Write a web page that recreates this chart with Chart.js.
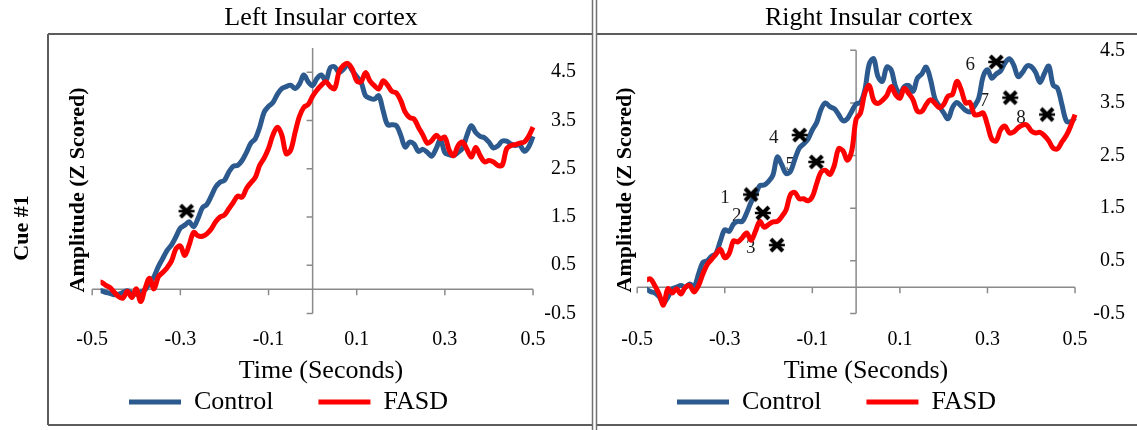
<!DOCTYPE html>
<html>
<head>
<meta charset="utf-8">
<title>Insular cortex - Cue #1</title>
<script src="https://cdn.jsdelivr.net/npm/chart.js@4.4.1/dist/chart.umd.min.js"></script>
<style>
  body { margin: 0; background: #fff; }
  #wrap { position: relative; width: 1137px; height: 430px; overflow: hidden; }
  canvas { position: absolute; top: 0; }
  #leftChart { left: 0; }
  #rightChart { left: 594px; }
</style>
</head>
<body>
<div id="wrap">
  <canvas id="leftChart" width="594" height="430"></canvas>
  <canvas id="rightChart" width="543" height="430"></canvas>
</div>
<script>
// time (seconds), shared by all traces
var timeSec = [
  -0.5, -0.49, -0.48, -0.47, -0.46, -0.45, -0.44, -0.43, -0.42, -0.41,
  -0.4, -0.39, -0.38, -0.37, -0.36, -0.35, -0.34, -0.33, -0.32, -0.31,
  -0.3, -0.29, -0.28, -0.27, -0.26, -0.25, -0.24, -0.23, -0.22, -0.21,
  -0.2, -0.19, -0.18, -0.17, -0.16, -0.15, -0.14, -0.13, -0.12, -0.11,
  -0.1, -0.09, -0.08, -0.07, -0.06, -0.05, -0.04, -0.03, -0.02, -0.01,
  0,
  0.01, 0.02, 0.03, 0.04, 0.05, 0.06, 0.07, 0.08, 0.09, 0.1,
  0.11, 0.12, 0.13, 0.14, 0.15, 0.16, 0.17, 0.18, 0.19, 0.2,
  0.21, 0.22, 0.23, 0.24, 0.25, 0.26, 0.27, 0.28, 0.29, 0.3,
  0.31, 0.32, 0.33, 0.34, 0.35, 0.36, 0.37, 0.38, 0.39, 0.4,
  0.41, 0.42, 0.43, 0.44, 0.45, 0.46, 0.47, 0.48, 0.49, 0.5
];
var xTicks = [-0.5, -0.3, -0.1, 0.1, 0.3, 0.5];
var yTicks = [-0.5, 0.5, 1.5, 2.5, 3.5, 4.5];

// Left insular cortex (amplitude, z scored)
var leftControl = [
  0.00, -0.04, -0.03, -0.06, -0.08, -0.11, -0.10, -0.06, -0.03, -0.08,
  -0.10, -0.06, -0.01, 0.13, 0.26, 0.47, 0.64, 0.81, 0.92, 1.09,
  1.27, 1.33, 1.40, 1.30, 1.47, 1.69, 1.76, 1.93, 2.12, 2.22,
  2.26, 2.43, 2.55, 2.57, 2.67, 2.84, 3.03, 3.12, 3.36, 3.67,
  3.79, 3.87, 4.04, 4.16, 4.20, 4.23, 4.16, 4.25, 4.44, 4.30,
  4.22,
  4.37, 4.44, 4.32, 4.59, 4.61, 4.49, 4.56, 4.66, 4.53, 4.41,
  4.29, 4.01, 3.96, 3.94, 4.01, 3.70, 3.41, 3.41, 3.39, 3.19,
  2.95, 3.05, 3.01, 2.86, 2.90, 2.84, 2.76, 2.91, 3.10, 2.83,
  2.79, 2.77, 2.84, 2.92, 3.19, 3.39, 3.25, 3.17, 3.14, 3.05,
  2.93, 2.97, 3.07, 3.07, 3.01, 2.98, 2.99, 2.86, 2.95, 3.17
];
var leftFASD = [
  0.23, 0.15, 0.15, 0.09, 0.04, -0.06, -0.15, -0.18, -0.04, -0.17,
  0.01, -0.25, 0.02, 0.23, 0.01, 0.26, 0.35, 0.45, 0.59, 0.84,
  0.90, 0.70, 0.92, 1.18, 1.11, 1.10, 1.15, 1.25, 1.40, 1.50,
  1.54, 1.67, 1.80, 1.93, 1.91, 2.09, 2.21, 2.32, 2.57, 2.72,
  2.92, 3.20, 3.36, 3.20, 2.81, 2.88, 3.24, 3.58, 3.77, 3.83,
  4.00,
  4.13, 4.23, 4.30, 4.20, 4.16, 4.51, 4.64, 4.68, 4.56, 4.32,
  4.30, 4.49, 4.32, 4.22, 4.15, 4.32, 4.23, 4.10, 4.07, 3.91,
  3.67, 3.56, 3.53, 3.36, 3.20, 3.03, 3.08, 3.19, 3.12, 3.15,
  2.88, 2.77, 2.98, 3.05, 2.90, 2.74, 2.94, 2.77, 2.64, 2.67,
  2.64, 2.57, 2.57, 2.91, 2.98, 3.00, 3.03, 3.05, 3.17, 3.36
];

// Right insular cortex
var rightControl = [
  0.25, 0.05, -0.03, -0.08, -0.11, -0.18, -0.30, -0.19, -0.03, 0.00,
  0.03, 0.00, 0.06, 0.01, 0.25, 0.47, 0.50, 0.59, 0.64, 0.88,
  1.09, 1.06, 1.20, 1.25, 1.25, 1.41, 1.61, 1.76, 1.93, 1.94,
  2.01, 2.13, 2.47, 2.33, 2.16, 2.20, 2.43, 2.64, 2.72, 2.81,
  2.99, 3.13, 3.38, 3.50, 3.43, 3.39, 3.28, 3.16, 3.20, 3.34,
  3.48,
  3.51, 3.75, 4.24, 4.34, 4.00, 3.91, 4.18, 4.13, 3.81, 3.68,
  3.81, 3.83, 3.72, 3.97, 4.05, 4.18, 3.94, 3.58, 3.44, 3.31,
  3.20, 3.41, 3.51, 3.44, 3.36, 3.33, 3.44, 3.59, 4.00, 4.13,
  3.97, 4.05, 4.11, 4.26, 4.34, 4.22, 4.00, 4.08, 4.20, 4.19,
  4.08, 3.89, 4.06, 4.20, 3.84, 3.78, 3.47, 3.16, 3.14, 3.22
];
var rightFASD = [
  0.13, 0.18, 0.14, 0.16, 0.03, -0.13, -0.34, -0.03, -0.11, -0.03,
  -0.13, 0.00, 0.03, -0.09, 0.03, 0.25, 0.43, 0.53, 0.63, 0.72,
  0.56, 0.64, 0.88, 0.86, 0.94, 1.03, 0.89, 1.06, 1.25, 1.14,
  1.19, 1.24, 1.25, 1.34, 1.47, 1.76, 1.80, 1.68, 1.68, 1.64,
  1.72, 1.97, 2.19, 2.22, 2.14, 2.31, 2.63, 2.59, 2.41, 2.59,
  3.19,
  3.31, 3.69, 3.83, 3.55, 3.49, 3.55, 3.64, 3.81, 3.66, 3.59,
  3.78, 3.68, 3.56, 3.34, 3.34, 3.47, 3.56, 3.49, 3.41, 3.47,
  3.63, 3.66, 3.91, 3.75, 3.50, 3.51, 3.28, 3.28, 3.31, 3.08,
  2.81, 2.78, 2.99, 3.06, 2.93, 2.95, 3.03, 3.08, 3.08, 2.97,
  2.93, 2.94, 2.88, 2.78, 2.64, 2.63, 2.76, 2.88, 3.06, 3.28
];

// significance markers
var leftMarkX = [-0.286];
var leftMarkY = [1.62];
var rightMarkX = [-0.240, -0.213, -0.181, -0.129, -0.091, 0.320, 0.352, 0.436];
var rightMarkY = [1.76, 1.41, 0.80, 2.89, 2.38, 4.28, 3.60, 3.28];
var rightMarkNames = ['1', '2', '3', '4', '5', '6', '7', '8'];

var serif = '"Liberation Serif", "Times New Roman", serif';
var blue = '#2d5a8e';
var red = '#ff0000';

Chart.defaults.font.family = serif;
Chart.defaults.color = '#000';

function toPoints(xs, ys) {
  return ys.map(function (v, i) { return { x: xs[i], y: v }; });
}

// bold asterisk used for the marks
function makeMarker() {
  var c = document.createElement('canvas');
  c.width = 18; c.height = 18;
  var g = c.getContext('2d');
  g.strokeStyle = '#000';
  g.lineWidth = 4;
  g.beginPath();
  g.moveTo(3, 3); g.lineTo(15, 15);
  g.moveTo(15, 3); g.lineTo(3, 15);
  g.stroke();
  g.lineWidth = 2.5;
  g.beginPath();
  g.moveTo(1, 9); g.lineTo(17, 9);
  g.stroke();
  return c;
}
var marker = makeMarker();

// axes that cross at t = 0 and amplitude = 0
var crossAxes = {
  id: 'crossAxes',
  beforeDatasetsDraw: function (chart) {
    var ctx = chart.ctx, x = chart.scales.x, y = chart.scales.y;
    var x0 = x.getPixelForValue(0), y0 = y.getPixelForValue(0);
    ctx.save();
    ctx.strokeStyle = '#8a8a8a';
    ctx.lineWidth = 1.5;
    ctx.beginPath();
    ctx.moveTo(x0, y.getPixelForValue(y.max));
    ctx.lineTo(x0, y.getPixelForValue(y.min));
    y.ticks.forEach(function (t) {
      var py = y.getPixelForValue(t.value);
      ctx.moveTo(x0 - 6, py);
      ctx.lineTo(x0, py);
    });
    ctx.moveTo(x.getPixelForValue(x.min), y0);
    ctx.lineTo(x.getPixelForValue(x.max), y0);
    x.ticks.forEach(function (t) {
      var px = x.getPixelForValue(t.value);
      ctx.moveTo(px, y0);
      ctx.lineTo(px, y0 + 6);
    });
    ctx.stroke();
    ctx.restore();
  }
};

// panel box, divider and the row label
var frame = {
  id: 'frame',
  afterDraw: function (chart, args, o) {
    var ctx = chart.ctx;
    ctx.save();
    ctx.strokeStyle = '#5c5c5c';
    ctx.lineWidth = 2;
    ctx.beginPath();
    ctx.moveTo(o.boxLeft, o.boxTop);
    ctx.lineTo(o.boxRight, o.boxTop);
    ctx.moveTo(o.boxLeft, o.boxBottom);
    ctx.lineTo(o.boxRight, o.boxBottom);
    if (o.leftEdge) {
      ctx.moveTo(o.boxLeft, o.boxTop);
      ctx.lineTo(o.boxLeft, o.boxBottom);
    }
    ctx.stroke();
    ctx.strokeStyle = '#707070';
    ctx.lineWidth = 1.5;
    ctx.beginPath();
    ctx.moveTo(o.divider, 0);
    ctx.lineTo(o.divider, chart.height);
    ctx.stroke();
    if (o.sideText) {
      ctx.translate(o.sideX, o.sideY);
      ctx.rotate(-Math.PI / 2);
      ctx.font = 'bold 22px ' + serif;
      ctx.fillStyle = '#000';
      ctx.textAlign = 'center';
      ctx.textBaseline = 'middle';
      ctx.fillText(o.sideText, 0, 0);
    }
    ctx.restore();
  }
};

// numbers next to the markers
var markNames = {
  id: 'markNames',
  beforeDatasetsDraw: function (chart, args, o) {
    if (!o.names) return;
    var meta = chart.getDatasetMeta(2);
    var ctx = chart.ctx;
    ctx.save();
    ctx.font = '19px ' + serif;
    ctx.fillStyle = '#1a1a1a';
    ctx.textAlign = 'center';
    ctx.textBaseline = 'middle';
    meta.data.forEach(function (pt, i) {
      ctx.fillText(o.names[i], pt.x - 26, pt.y + 3);
    });
    ctx.restore();
  }
};

// move titles / legend to where the original figure has them
var nudge = {
  id: 'nudge',
  afterLayout: function (chart, args, o) {
    var dx, dy;
    var lg = chart.legend;
    if (lg && o.legendX != null) {
      var pad = lg.options.labels.padding;
      dx = o.legendX - (lg.left + pad);
      dy = o.legendY - (lg.top + pad + lg.options.labels.font.size / 2);
      lg.left += dx; lg.right += dx;
      lg.top += dy; lg.bottom += dy;
    }
    var tb = chart.titleBlock;
    if (tb && o.titleX != null) {
      dx = o.titleX - (tb.left + tb.right) / 2;
      tb.left += dx; tb.right += dx;
    }
    var xs = chart.scales.x;
    if (o.xTitleX != null) {
      dx = o.xTitleX - (xs.left + xs.right) / 2;
      xs.left += dx; xs.right += dx;
    }
    var yt = chart.scales.yTitle;
    if (o.yTitleY != null) {
      dy = o.yTitleY - (yt.top + yt.bottom) / 2;
      yt.top += dy; yt.bottom += dy;
    }
  }
};

function makePanel(id, p) {
  return new Chart(document.getElementById(id), {
    type: 'line',
    data: {
      datasets: [
        { label: 'Control', data: toPoints(timeSec, p.control), borderColor: blue, backgroundColor: blue,
          borderWidth: 5, pointRadius: 0, tension: 0.35, borderJoinStyle: 'round', order: 2 },
        { label: 'FASD', data: toPoints(timeSec, p.fasd), borderColor: red, backgroundColor: red,
          borderWidth: 5, pointRadius: 0, tension: 0.35, borderJoinStyle: 'round', order: 1 },
        { type: 'scatter', label: 'marks', data: toPoints(p.markX, p.markY), pointStyle: marker,
          pointRadius: 9, borderColor: '#000', backgroundColor: '#000', order: 0 }
      ]
    },
    options: {
      responsive: false,
      animation: false,
      devicePixelRatio: 1,
      layout: { padding: { left: p.padLeft, right: p.padRight, top: 0, bottom: -4.5 } },
      scales: {
        x: {
          type: 'linear', position: 'bottom', min: -0.5, max: 0.5,
          afterBuildTicks: function (s) { s.ticks = xTicks.map(function (v) { return { value: v }; }); },
          ticks: { font: { size: 20 }, color: '#000', padding: 14.5, maxRotation: 0, autoSkip: false,
                   callback: function (v) { return v.toFixed(1); } },
          grid: { display: false, drawTicks: false },
          border: { display: false },
          title: { display: true, text: 'Time (Seconds)', font: { size: 26 }, color: '#000',
                   padding: { top: -11.1, bottom: -33.1 } }
        },
        y: {
          type: 'linear', position: 'right', min: -0.5, max: p.yMax,
          afterBuildTicks: function (s) { s.ticks = yTicks.map(function (v) { return { value: v }; }); },
          ticks: { font: { size: 20 }, color: '#000', padding: p.yTickPad, crossAlign: 'far',
                   callback: function (v) { return v.toFixed(1); } },
          grid: { display: false, drawTicks: false },
          border: { display: false }
        },
        yTitle: {
          type: 'linear', position: 'left', display: true,
          ticks: { display: false },
          grid: { display: false, drawTicks: false },
          border: { display: false },
          title: { display: true, text: 'Amplitude (Z Scored)', color: '#000',
                   font: { size: 22, weight: 'bold', lineHeight: 1.1 },
                   padding: { top: 0, bottom: p.yTitleGap } }
        }
      },
      plugins: {
        title: { display: true, text: p.title, color: '#000',
                 font: { size: 26, weight: 'normal', lineHeight: 1.2 },
                 padding: { top: 2.4, bottom: p.titleGap } },
        legend: {
          position: 'bottom', align: 'start',
          labels: {
            font: { size: 26 }, color: '#000', boxWidth: 52, boxHeight: 5, padding: 45,
            generateLabels: function (chart) {
              return Chart.defaults.plugins.legend.labels.generateLabels(chart).map(function (l) {
                l.lineWidth = 0;
                return l;
              });
            },
            filter: function (item) { return item.datasetIndex < 2; },
            sort: function (a, b) { return a.datasetIndex - b.datasetIndex; }
          }
        },
        tooltip: { enabled: false },
        frame: p.frame,
        markNames: { names: p.markNames },
        nudge: p.nudge
      }
    },
    plugins: [crossAxes, frame, markNames, nudge]
  });
}

makePanel('leftChart', {
  title: 'Left Insular cortex',
  control: leftControl, fasd: leftFASD,
  markX: leftMarkX, markY: leftMarkY, markNames: null,
  yMax: 5, yTickPad: 5.65, yTitleGap: 2,
  padLeft: 66, padRight: 18, titleGap: 14.4,
  nudge: { legendX: 129, legendY: 402, titleX: 321, xTitleX: 321, yTitleY: 190 },
  frame: { boxLeft: 48, boxRight: 592.5, boxTop: 34, boxBottom: 425, leftEdge: true,
           divider: 592.5, sideText: 'Cue #1', sideX: 22, sideY: 228 }
});

makePanel('rightChart', {
  title: 'Right Insular cortex',
  control: rightControl, fasd: rightFASD,
  markX: rightMarkX, markY: rightMarkY, markNames: rightMarkNames,
  yMax: 4.5, yTickPad: 9.15, yTitleGap: 0,
  padLeft: 19, padRight: 12, titleGap: 16.7,
  nudge: { legendX: 83, legendY: 402, titleX: 275, xTitleX: 272, yTitleY: 190 },
  frame: { boxLeft: 2.5, boxRight: 543, boxTop: 34, boxBottom: 425, leftEdge: false,
           divider: 2.5, sideText: null }
});
</script>
</body>
</html>
